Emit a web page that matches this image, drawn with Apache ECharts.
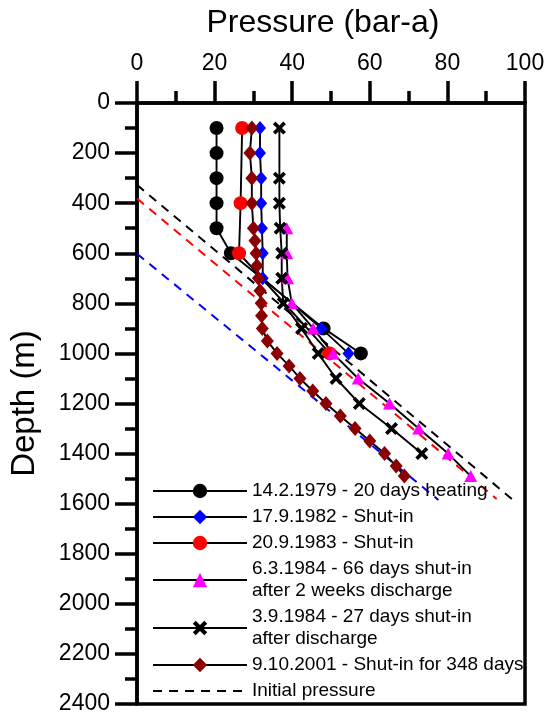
<!DOCTYPE html>
<html>
<head>
<meta charset="utf-8">
<title>Pressure vs depth</title>
<script src="https://cdn.jsdelivr.net/npm/echarts@6/dist/echarts.min.js"></script>
<style>
  html, body { margin: 0; padding: 0; background: #fff; }
  #main { width: 549px; height: 717px; }
</style>
</head>
<body>
<div id="main"></div>
<script>
// data: pressure (bar-a) at depth (m)
var depth1979 = [100, 200, 300, 400, 500, 600, 900, 1000];
var press1979 = [20.5, 20.5, 20.5, 20.5, 20.5, 24.2, 48.1, 57.7];

var depth1982 = [100, 200, 300, 400, 500, 600, 700, 900, 1000];
var press1982 = [31.7, 31.7, 32, 32, 32.2, 32.4, 32.4, 47.5, 54.5];

var depth1983 = [100, 400, 600, 1000];
var press1983 = [27.1, 26.7, 26.3, 49.7];

var depth1984a = [500, 600, 700, 800, 900, 1000, 1100, 1200, 1300, 1400, 1490];
var press1984a = [38.6, 38.6, 38.8, 39.9, 45.4, 50.5, 57.0, 65.1, 72.6, 80.2, 86.0];

var depth1984b = [100, 300, 400, 500, 600, 700, 800, 900, 1000, 1100, 1200, 1300, 1400];
var press1984b = [36.7, 36.7, 36.7, 36.9, 37.3, 37.3, 37.7, 42.4, 46.7, 51.3, 57.3, 65.6, 73.4];

var depth2001 = [100, 200, 300, 400, 500, 550, 600, 650, 700, 750, 800, 850, 900, 950,
                 1000, 1050, 1100, 1150, 1200, 1250, 1300, 1350, 1400, 1450, 1490];
var press2001 = [29.6, 29.1, 29.6, 29.6, 30.0, 30.4, 30.7, 30.9, 31.3, 31.7, 32.0, 32.1, 32.3, 33.6,
                 36.1, 39.2, 42.0, 45.3, 48.7, 52.4, 56.2, 60.0, 63.8, 66.8, 68.9];

// initial pressure lines (start / end points)
var initBlackPress = [0, 96.6];
var initBlackDepth = [327, 1581];
var initRedPress = [0, 92.7];
var initRedDepth = [381, 1581];
var initBluePress = [0, 77.7];
var initBlueDepth = [602, 1585];

var names = [
  '14.2.1979 - 20 days heating',
  '17.9.1982 - Shut-in',
  '20.9.1983 - Shut-in',
  '6.3.1984 - 66 days shut-in\nafter 2 weeks discharge',
  '3.9.1984 - 27 days shut-in\nafter discharge',
  '9.10.2001 - Shut-in for 348 days',
  'Initial pressure'
];

function pairs(p, d) {
  var out = [];
  for (var i = 0; i < p.length; i++) {
    out.push([p[i], d[i]]);
  }
  return out;
}

var crossPath = 'path://M0,2 L2,0 L5,3 L8,0 L10,2 L7,5 L10,8 L8,10 L5,7 L2,10 L0,8 L3,5 Z';

function pointSeries(name, p, d, symbol, size, color) {
  return {
    name: name,
    type: 'line',
    data: pairs(p, d),
    symbol: symbol,
    symbolSize: size,
    showAllSymbol: true,
    itemStyle: { color: color },
    lineStyle: { color: '#000', width: 1.9 },
    z: 3
  };
}

function dashSeries(name, p, d, color) {
  return {
    name: name,
    type: 'line',
    data: pairs(p, d),
    symbol: 'none',
    itemStyle: { color: color },
    lineStyle: { color: color, width: 2, type: [9, 7] },
    z: 2
  };
}

var tickStyle = { color: '#000', width: 3.5 };

var option = {
  animation: false,
  textStyle: { fontFamily: 'Liberation Sans', color: '#000' },
  grid: {
    left: 137, right: 24, top: 103, bottom: 13,
    show: true, borderColor: '#000', borderWidth: 3.5,
    backgroundColor: 'transparent'
  },
  xAxis: {
    type: 'value',
    position: 'top',
    min: 0, max: 100, interval: 20,
    name: 'Pressure (bar-a)',
    nameLocation: 'middle',
    nameGap: 64,
    nameTextStyle: { fontSize: 32, color: '#000', padding: [0, 16, 0, 0] },
    axisLine: { onZero: false, lineStyle: tickStyle },
    axisTick: { length: 22, lineStyle: tickStyle },
    minorTick: { show: true, splitNumber: 2, length: 12, lineStyle: tickStyle },
    axisLabel: { fontSize: 23, color: '#000', margin: 28 },
    splitLine: { show: false }
  },
  yAxis: {
    type: 'value',
    inverse: true,
    min: 0, max: 2400, interval: 200,
    name: 'Depth (m)',
    nameLocation: 'middle',
    nameGap: 96,
    nameTextStyle: { fontSize: 33, color: '#000' },
    axisLine: { onZero: false, lineStyle: tickStyle },
    axisTick: { length: 22, lineStyle: tickStyle },
    minorTick: { show: true, splitNumber: 2, length: 12, lineStyle: tickStyle },
    axisLabel: {
      fontSize: 23, color: '#000', margin: 27,
      formatter: function (v) { return String(v); }
    },
    splitLine: { show: false }
  },
  legend: {
    orient: 'vertical',
    left: 152,
    top: 480,
    padding: 0,
    itemWidth: 94,
    itemHeight: 18,
    itemGap: 4,
    textStyle: { fontSize: 19, lineHeight: 22, color: '#000' },
    data: [
      names[0], names[1], names[2], names[3], names[4], names[5],
      { name: names[6], itemStyle: { opacity: 0 } }
    ]
  },
  series: [
    dashSeries(names[6], initBlackPress, initBlackDepth, '#000'),
    dashSeries('initRed', initRedPress, initRedDepth, '#ff0000'),
    dashSeries('initBlue', initBluePress, initBlueDepth, '#0000ff'),
    pointSeries(names[0], press1979, depth1979, 'circle', 14, '#000'),
    pointSeries(names[1], press1982, depth1982, 'diamond', [12, 14], '#0000ff'),
    pointSeries(names[2], press1983, depth1983, 'circle', 14, '#ff0000'),
    pointSeries(names[3], press1984a, depth1984a, 'triangle', [13, 12], '#ff00ff'),
    pointSeries(names[4], press1984b, depth1984b, crossPath, 13, '#000'),
    pointSeries(names[5], press2001, depth2001, 'diamond', [13, 15], '#8b0000')
  ]
};

var chart = echarts.init(document.getElementById('main'), null, { renderer: 'canvas' });
chart.setOption(option);
</script>
</body>
</html>
